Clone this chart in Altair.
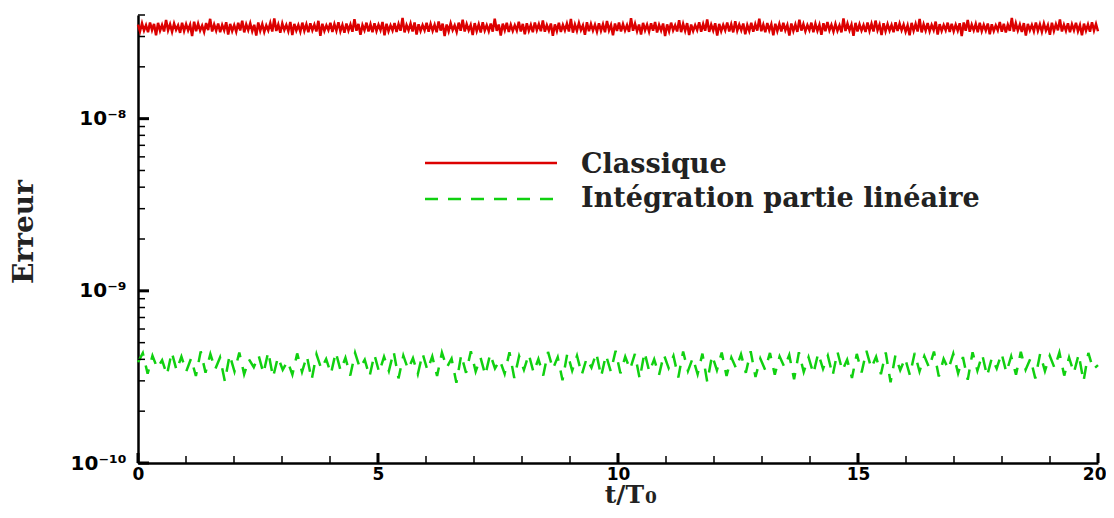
import altair as alt
import numpy as np
import pandas as pd

# Erreur "Classique" (units of 1e-8)
red_e8 = [
    3.52,3.22,3.58,3.25,3.49,3.18,3.62,3.27,3.55,3.05,3.60,3.24,3.50,3.21,3.74,3.26,3.53,3.20,3.57,3.28,
    3.48,3.15,3.61,3.23,3.54,3.26,3.51,3.02,3.66,3.22,3.56,3.25,3.47,3.19,3.59,3.27,3.80,3.21,3.52,3.24,
    3.57,3.18,3.50,3.26,3.63,3.08,3.55,3.23,3.49,3.20,3.60,3.25,3.71,3.17,3.53,3.27,3.58,3.22,3.51,3.04,
    3.62,3.24,3.54,3.19,3.48,3.26,3.59,3.21,3.82,3.23,3.52,3.16,3.57,3.27,3.50,3.22,3.64,3.06,3.55,3.25,
    3.49,3.20,3.61,3.24,3.53,3.18,3.58,3.26,3.51,3.21,3.70,3.03,3.56,3.23,3.48,3.27,3.60,3.19,3.54,3.24,
    3.63,3.22,3.50,3.16,3.57,3.25,3.52,3.20,3.78,3.24,3.55,3.07,3.49,3.26,3.61,3.21,3.53,3.18,3.58,3.23,
    3.51,3.27,3.64,3.05,3.56,3.22,3.48,3.25,3.59,3.19,3.54,3.24,3.85,3.17,3.50,3.26,3.57,3.21,3.62,3.08,
    3.53,3.23,3.49,3.26,3.60,3.20,3.55,3.24,3.51,3.18,3.67,3.25,3.56,3.02,3.52,3.22,3.58,3.27,3.48,3.19,
    3.61,3.24,3.76,3.21,3.54,3.26,3.50,3.06,3.59,3.23,3.53,3.17,3.63,3.25,3.49,3.22,3.57,3.20,3.81,3.24,
    3.52,3.04,3.56,3.26,3.60,3.19,3.51,3.23,3.48,3.25,3.65,3.21,3.55,3.09,3.58,3.24,3.50,3.18,3.62,3.27,
    3.54,3.22,3.72,3.20,3.49,3.25,3.57,3.03,3.53,3.23,3.61,3.19,3.50,3.26,3.56,3.21,3.79,3.16,3.52,3.24,
    3.59,3.27,3.48,3.07,3.63,3.22,3.55,3.25,3.51,3.20,3.58,3.24,3.53,3.18,3.69,3.26,3.50,3.05,3.57,3.23,
    3.62,3.21,3.54,3.25,3.49,3.19,3.83,3.24,3.56,3.22,3.52,3.08,3.60,3.26,3.51,3.20,3.58,3.24,3.64,3.17,
    3.50,3.25,3.57,3.02,3.53,3.22,3.61,3.26,3.48,3.21,3.73,3.18,3.55,3.24,3.59,3.06,3.52,3.23,3.49,3.27,
    3.63,3.20,3.54,3.24,3.77,3.19,3.51,3.25,3.58,3.04,3.55,3.22,3.50,3.26,3.62,3.21,3.53,3.17,3.68,3.24,
    3.52,3.26,3.57,3.09,3.49,3.23,3.60,3.20,3.54,3.25,3.81,3.22,3.51,3.18,3.59,3.26,3.53,3.05,3.56,3.23,
    3.55,3.21,3.60,3.26,3.50,3.04,3.57,3.23,3.52,3.19,3.75,3.25,3.54,3.22,3.49,3.27,3.61,3.18,3.56,3.24,
    3.51,3.07,3.58,3.22,3.64,3.26,3.50,3.20,3.55,3.24,3.48,3.17,3.82,3.23,3.57,3.26,3.52,3.03,3.60,3.21,
    3.53,3.25,3.49,3.19,3.62,3.24,3.56,3.21,3.71,3.26,3.51,3.06,3.58,3.22,3.54,3.25,3.50,3.18,3.63,3.23,
    3.57,3.26,3.52,3.20,3.48,3.05,3.60,3.24,3.55,3.21,3.79,3.17,3.53,3.25,3.59,3.22,3.50,3.27,3.66,3.08,
    3.54,3.23,3.49,3.26,3.61,3.19,3.56,3.22,3.51,3.25,3.58,3.02,3.62,3.24,3.74,3.20,3.52,3.26,3.55,3.18,
    3.60,3.22,3.50,3.25,3.57,3.09,3.53,3.23,3.48,3.26,3.64,3.20,3.56,3.17,3.51,3.24,3.84,3.21,3.58,3.25,
    3.52,3.19,3.59,3.04,3.55,3.26,3.50,3.22,3.62,3.24,3.53,3.20,3.57,3.25,3.49,3.07,3.61,3.23,3.54,3.26,
    3.77,3.21,3.51,3.24,3.58,3.18,3.53,3.26,3.60,3.22,3.49,3.05,3.56,3.24,3.52,3.20,3.63,3.25,3.55,3.22,
]

# Erreur "Intégration partie linéaire" (units of 1e-10)
green_e10 = [
    3.85,4.35,3.30,4.20,3.55,3.95,3.25,4.40,3.45,4.15,3.40,4.05,3.20,4.45,3.35,4.30,3.50,4.10,2.98,4.25,
    3.40,4.38,3.28,4.00,3.60,4.22,3.32,4.42,3.15,4.12,3.48,3.90,3.26,4.33,3.38,4.18,3.05,4.28,3.52,4.02,
    3.30,4.40,3.44,4.08,3.22,4.36,3.56,3.98,3.18,4.26,3.36,4.14,3.42,4.44,3.10,4.20,3.50,4.06,3.28,4.32,
    3.46,4.16,3.20,4.38,3.58,4.04,2.92,4.24,3.34,4.46,3.40,4.10,3.24,4.30,3.54,3.96,3.30,4.40,3.12,4.18,
    3.48,4.28,3.36,4.02,3.22,4.42,3.52,4.12,3.02,4.34,3.44,4.20,3.26,4.06,3.58,4.36,3.18,4.24,3.40,4.48,
    3.32,4.14,3.50,4.30,3.08,4.40,3.38,4.00,3.24,4.26,3.56,4.18,3.14,4.44,3.42,4.08,3.28,4.32,2.96,4.22,
    3.46,4.38,3.20,4.10,3.54,4.28,3.34,4.46,3.16,4.04,3.48,4.36,3.26,4.16,3.60,4.24,3.06,4.40,3.38,4.12,
    3.30,4.34,3.52,4.20,3.22,4.42,3.44,3.98,3.12,4.30,3.36,4.48,3.56,4.14,3.28,4.38,2.94,4.22,3.46,4.06,
    3.24,4.36,3.40,4.18,3.58,4.44,3.18,4.02,3.50,4.32,3.32,4.12,3.04,4.40,3.44,4.26,3.20,4.08,3.54,4.34,
    3.36,4.16,3.26,4.42,3.48,4.04,3.10,4.30,3.42,4.20,3.56,4.38,3.22,4.10,3.34,4.28,2.98,4.36,3.50,3.70,
]

T_MAX = 20.0
x_major = [0, 5, 10, 15, 20]
x_minor = list(range(0, 21))
y_major = [1e-10, 1e-9, 1e-8]
y_minor = [2e-10, 3e-10, 4e-10, 5e-10, 6e-10, 7e-10, 8e-10, 9e-10,
           2e-9, 3e-9, 4e-9, 5e-9, 6e-9, 7e-9, 8e-9, 9e-9,
           2e-8, 3e-8, 4e-8]
series_names = ["Classique", "Intégration partie linéaire"]
y_title = "Erreur"
x_title_main = "t/T"
x_title_sub = "0"

RED = "#dc0000"
GREEN = "#10d010"
W, H = 960, 448

red_df = pd.DataFrame({"t": np.linspace(0, T_MAX, len(red_e8)),
                       "err": np.array(red_e8) * 1e-8})
green_df = pd.DataFrame({"t": np.linspace(0, T_MAX, len(green_e10)),
                         "err": np.array(green_e10) * 1e-10})

xs = alt.Scale(domain=[0, 20], nice=False, zero=False)
ys = alt.Scale(type="log", domain=[1e-10, 4e-8], nice=False)

x_axis = alt.Axis(values=x_major, title=None, grid=False, ticks=False,
                  labelFont="DejaVu Sans", labelFontWeight="bold",
                  labelFontSize=17, labelColor="black", labelPadding=3,
                  labelAlign={"condition": {"test": "datum.value >= 20", "value": "right"},
                              "value": "center"},
                  labelOffset={"condition": {"test": "datum.value >= 20", "value": 8},
                               "value": 0},
                  domainColor="black", domainWidth=2.5, labelFlush=False)
y_axis = alt.Axis(values=y_major, title=None, grid=False, ticks=False,
                  labelExpr="datum.value < 5e-10 ? '10⁻¹⁰' : (datum.value < 5e-9 ? '10⁻⁹' : '10⁻⁸')",
                  labelFont="DejaVu Sans", labelFontWeight="bold",
                  labelFontSize=20, labelColor="black", labelPadding=12,
                  domainColor="black", domainWidth=2.5, labelFlush=False)

X = lambda f: alt.X(f, scale=xs, axis=x_axis)
Y = lambda f: alt.Y(f, scale=ys, axis=y_axis)

red_line = alt.Chart(red_df).mark_line(color=RED, strokeWidth=2.5).encode(
    x=X("t:Q"), y=Y("err:Q"))
green_line = alt.Chart(green_df).mark_line(
    color=GREEN, strokeWidth=2.5, strokeDash=[13, 10]).encode(
    x=X("t:Q"), y=Y("err:Q"))

ymaj_df = pd.DataFrame({"v": y_major})
ymin_df = pd.DataFrame({"v": y_minor})
xmaj_df = pd.DataFrame({"v": x_major})
xmin_df = pd.DataFrame({"v": x_minor})

ytick_major = alt.Chart(ymaj_df).mark_rule(color="black", strokeWidth=3).encode(
    y=Y("v:Q"), x=alt.value(0), x2=alt.value(11))
ytick_minor = alt.Chart(ymin_df).mark_rule(color="black", strokeWidth=1.5).encode(
    y=Y("v:Q"), x=alt.value(0), x2=alt.value(7))
xtick_major = alt.Chart(xmaj_df).mark_rule(color="black", strokeWidth=3).encode(
    x=X("v:Q"), y=alt.value(H), y2=alt.value(H - 10))
xtick_minor = alt.Chart(xmin_df).mark_rule(color="black", strokeWidth=1.5).encode(
    x=X("v:Q"), y=alt.value(H), y2=alt.value(H - 7))

leg_df = pd.DataFrame({"name": series_names})
leg_red = alt.Chart(leg_df.iloc[[0]]).mark_rule(color=RED, strokeWidth=2.5).encode(
    x=alt.value(287), x2=alt.value(419), y=alt.value(148))
leg_green = alt.Chart(leg_df.iloc[[1]]).mark_rule(
    color=GREEN, strokeWidth=2.5, strokeDash=[13, 10]).encode(
    x=alt.value(287), x2=alt.value(419), y=alt.value(184))
txt = dict(align="left", baseline="alphabetic", font="DejaVu Serif",
           fontWeight="bold", fontSize=27, color="#222")
leg_t1 = alt.Chart(leg_df.iloc[[0]]).mark_text(**txt).encode(
    x=alt.value(443), y=alt.value(158), text="name:N")
leg_t2 = alt.Chart(leg_df.iloc[[1]]).mark_text(**txt).encode(
    x=alt.value(443), y=alt.value(192), text="name:N")

title_df = pd.DataFrame({"y": [y_title], "x": [x_title_main], "s": [x_title_sub]})
ytitle = alt.Chart(title_df).mark_text(
    angle=270, align="center", baseline="middle", font="DejaVu Serif",
    fontWeight="bold", fontSize=28, color="#222").encode(
    x=alt.value(-113), y=alt.value(217), text="y:N")
xtitle = alt.Chart(title_df).mark_text(
    align="right", baseline="alphabetic", font="DejaVu Serif",
    fontWeight="bold", fontSize=25, color="#222").encode(
    x=alt.value(506), y=alt.value(488), text="x:N")
xtitle_sub = alt.Chart(title_df).mark_text(
    align="left", baseline="alphabetic", font="DejaVu Serif",
    fontWeight="bold", fontSize=17, color="#222").encode(
    x=alt.value(507), y=alt.value(488), text="s:N")

chart = alt.layer(
    red_line, green_line, ytick_major, ytick_minor, xtick_major, xtick_minor,
    leg_red, leg_green, leg_t1, leg_t2, ytitle, xtitle, xtitle_sub
).resolve_scale(x="shared", y="shared").properties(
    width=W, height=H, autosize="none",
    padding={"left": 130, "top": 7, "right": 8, "bottom": 47},
).configure_view(stroke=None)

chart.save("out.html", embed_options={"renderer": "svg", "actions": False})
